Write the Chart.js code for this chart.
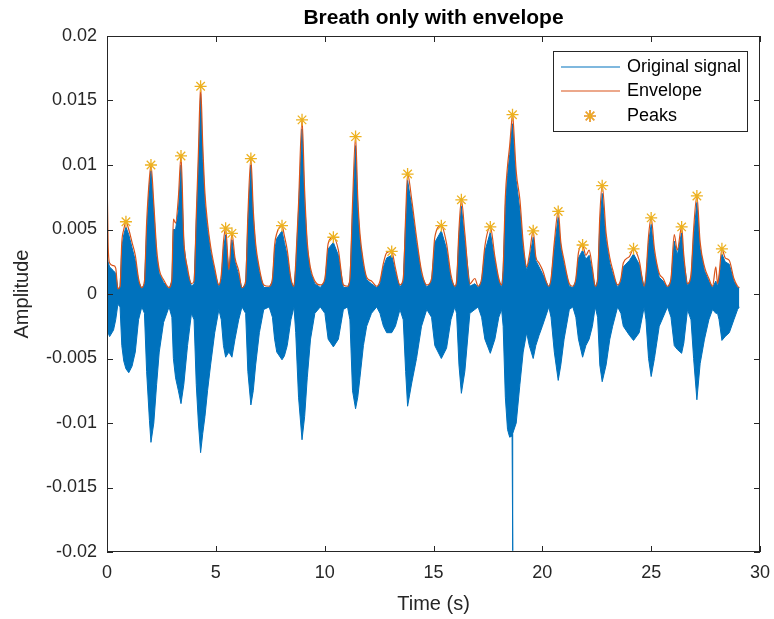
<!DOCTYPE html>
<html>
<head>
<meta charset="utf-8">
<script src="https://cdn.jsdelivr.net/npm/chart.js@4.4.0/dist/chart.umd.min.js"></script>
<style>
  html, body { margin: 0; padding: 0; background: #fff; }
  #wrap { width: 774px; height: 619px; }
</style>
</head>
<body>
<div id="wrap"><canvas id="graph"></canvas></div>
<script>
// values
const timeS = [
  0.00, 0.05, 0.12, 0.30, 0.40, 0.50, 0.60, 0.68, 0.77, 0.87, 1.00, 1.15, 1.30, 1.45, 1.60,
  1.72, 1.82, 1.95, 2.02, 2.15, 2.28, 2.40, 2.60, 2.85, 2.98, 3.05, 3.15, 3.28, 3.40, 3.53,
  3.70, 3.88, 4.00, 4.10, 4.20, 4.30, 4.40, 4.50, 4.62, 4.76, 4.95, 5.14, 5.25, 5.35, 5.45,
  5.60, 5.74, 5.88, 6.05, 6.20, 6.37, 6.47, 6.61, 6.72, 6.83, 7.00, 7.20, 7.45, 7.60, 7.70,
  7.80, 8.04, 8.15, 8.28, 8.45, 8.59, 8.67, 8.80, 8.96, 9.08, 9.20, 9.35, 9.55, 9.80, 10.01,
  10.16, 10.40, 10.63, 10.86, 11.05, 11.16, 11.28, 11.42, 11.52, 11.62, 11.78, 11.93, 12.15, 12.39, 12.54,
  12.70, 12.85, 13.08, 13.25, 13.46, 13.61, 13.72, 13.81, 14.00, 14.22, 14.45, 14.69, 14.91, 15.06, 15.36,
  15.60, 15.80, 15.98, 16.06, 16.17, 16.28, 16.44, 16.67, 16.90, 17.05, 17.21, 17.36, 17.61, 17.82, 18.00,
  18.13, 18.20, 18.30, 18.40, 18.50, 18.61, 18.63, 18.65, 18.80, 18.97, 19.12, 19.28, 19.40, 19.58, 19.70,
  19.85, 20.00, 20.30, 20.40, 20.55, 20.73, 20.85, 21.00, 21.24, 21.40, 21.54, 21.66, 21.85, 22.00, 22.15,
  22.30, 22.43, 22.54, 22.64, 22.75, 22.93, 23.10, 23.23, 23.46, 23.61, 23.72, 24.00, 24.19, 24.45, 24.68,
  24.76, 24.88, 25.00, 25.15, 25.37, 25.55, 25.75, 25.91, 26.06, 26.20, 26.40, 26.50, 26.67, 26.83, 26.95,
  27.10, 27.25, 27.45, 27.65, 27.82, 27.97, 28.05, 28.12, 28.25, 28.40, 28.59, 28.80, 28.97, 29.05
];

const envelope = [
  0.0098, 0.0040, 0.0024, 0.0022, 0.0020, 0.0004, 0.0006, 0.0040, 0.0050, 0.0056, 0.0050, 0.0040, 0.0030, 0.0012, 0.0005,
  0.0010, 0.0055, 0.0090, 0.0100, 0.0070, 0.0035, 0.0019, 0.0011, 0.0005, 0.0012, 0.0058, 0.0055, 0.0075, 0.0107, 0.0042,
  0.0020, 0.0008, 0.0010, 0.0060, 0.0110, 0.0161, 0.0115, 0.0078, 0.0055, 0.0037, 0.0020, 0.0007, 0.0015, 0.0040, 0.0051,
  0.0019, 0.0047, 0.0028, 0.0018, 0.0005, 0.0010, 0.0060, 0.0105, 0.0065, 0.0039, 0.0020, 0.0007, 0.0006, 0.0012, 0.0038,
  0.0047, 0.0053, 0.0045, 0.0034, 0.0012, 0.0006, 0.0024, 0.0070, 0.0135, 0.0080, 0.0040, 0.0020, 0.0010, 0.0007, 0.0012,
  0.0039, 0.0044, 0.0034, 0.0007, 0.0006, 0.0012, 0.0070, 0.0122, 0.0075, 0.0047, 0.0025, 0.0013, 0.0010, 0.0006, 0.0010,
  0.0024, 0.0032, 0.0033, 0.0020, 0.0007, 0.0012, 0.0060, 0.0093, 0.0073, 0.0044, 0.0018, 0.0007, 0.0012, 0.0044, 0.0053,
  0.0039, 0.0015, 0.0006, 0.0010, 0.0050, 0.0073, 0.0047, 0.0008, 0.0012, 0.0006, 0.0012, 0.0037, 0.0052, 0.0029, 0.0012,
  0.0007, 0.0020, 0.0075, 0.0099, 0.0115, 0.0137, 0.0139, 0.0137, 0.0095, 0.0073, 0.0040, 0.0021, 0.0030, 0.0049, 0.0029,
  0.0024, 0.0019, 0.0006, 0.0012, 0.0040, 0.0064, 0.0040, 0.0026, 0.0008, 0.0006, 0.0012, 0.0032, 0.0038, 0.0030, 0.0034,
  0.0020, 0.0006, 0.0012, 0.0060, 0.0084, 0.0047, 0.0028, 0.0019, 0.0007, 0.0012, 0.0024, 0.0029, 0.0035, 0.0026, 0.0006,
  0.0015, 0.0045, 0.0059, 0.0035, 0.0016, 0.0012, 0.0006, 0.0012, 0.0046, 0.0034, 0.0052, 0.0030, 0.0008, 0.0015, 0.0050,
  0.0076, 0.0040, 0.0021, 0.0012, 0.0006, 0.0021, 0.0008, 0.0015, 0.0035, 0.0028, 0.0026, 0.0012, 0.0006, 0.0005
];

const signalHigh = [
  0.0030, 0.0025, 0.0021, 0.0018, 0.0016, 0.0004, 0.0005, 0.0036, 0.0046, 0.0052, 0.0046, 0.0036, 0.0026, 0.0010, 0.0004,
  0.0008, 0.0048, 0.0085, 0.0096, 0.0065, 0.0030, 0.0016, 0.0009, 0.0004, 0.0010, 0.0050, 0.0050, 0.0065, 0.0100, 0.0038,
  0.0017, 0.0006, 0.0008, 0.0055, 0.0100, 0.0155, 0.0105, 0.0070, 0.0050, 0.0033, 0.0017, 0.0005, 0.0012, 0.0035, 0.0046,
  0.0017, 0.0042, 0.0025, 0.0015, 0.0004, 0.0008, 0.0055, 0.0100, 0.0060, 0.0035, 0.0017, 0.0005, 0.0005, 0.0010, 0.0034,
  0.0043, 0.0049, 0.0040, 0.0030, 0.0010, 0.0005, 0.0020, 0.0065, 0.0128, 0.0072, 0.0036, 0.0017, 0.0008, 0.0005, 0.0010,
  0.0035, 0.0040, 0.0030, 0.0005, 0.0005, 0.0010, 0.0063, 0.0115, 0.0068, 0.0042, 0.0022, 0.0011, 0.0008, 0.0005, 0.0008,
  0.0021, 0.0028, 0.0030, 0.0017, 0.0005, 0.0010, 0.0055, 0.0088, 0.0068, 0.0040, 0.0015, 0.0005, 0.0010, 0.0040, 0.0049,
  0.0035, 0.0012, 0.0005, 0.0008, 0.0045, 0.0068, 0.0042, 0.0006, 0.0008, 0.0005, 0.0010, 0.0033, 0.0048, 0.0026, 0.0010,
  0.0005, 0.0018, 0.0068, 0.0092, 0.0108, 0.0130, 0.0132, 0.0130, 0.0088, 0.0065, 0.0035, 0.0018, 0.0026, 0.0044, 0.0026,
  0.0021, 0.0016, 0.0005, 0.0010, 0.0036, 0.0060, 0.0036, 0.0023, 0.0006, 0.0005, 0.0010, 0.0028, 0.0034, 0.0027, 0.0030,
  0.0017, 0.0005, 0.0010, 0.0054, 0.0078, 0.0042, 0.0024, 0.0016, 0.0005, 0.0010, 0.0021, 0.0026, 0.0031, 0.0023, 0.0005,
  0.0012, 0.0040, 0.0054, 0.0031, 0.0013, 0.0010, 0.0005, 0.0010, 0.0041, 0.0030, 0.0048, 0.0026, 0.0006, 0.0012, 0.0045,
  0.0071, 0.0035, 0.0018, 0.0010, 0.0005, 0.0010, 0.0006, 0.0012, 0.0031, 0.0025, 0.0023, 0.0010, 0.0005, 0.0005
];

const signalLow = [
  -0.0025, -0.0030, -0.0033, -0.0028, -0.0020, -0.0008, -0.0010, -0.0040, -0.0052, -0.0058, -0.0061, -0.0056, -0.0045, -0.0020, -0.0010,
  -0.0015, -0.0060, -0.0098, -0.0115, -0.0100, -0.0070, -0.0045, -0.0022, -0.0010, -0.0018, -0.0050, -0.0065, -0.0075, -0.0085, -0.0070,
  -0.0040, -0.0015, -0.0020, -0.0070, -0.0100, -0.0123, -0.0108, -0.0095, -0.0075, -0.0055, -0.0030, -0.0012, -0.0020, -0.0040, -0.0049,
  -0.0045, -0.0049, -0.0035, -0.0020, -0.0010, -0.0015, -0.0060, -0.0086, -0.0075, -0.0055, -0.0030, -0.0012, -0.0010, -0.0018, -0.0035,
  -0.0045, -0.0051, -0.0048, -0.0040, -0.0020, -0.0010, -0.0030, -0.0080, -0.0113, -0.0095, -0.0065, -0.0035, -0.0015, -0.0010, -0.0015,
  -0.0035, -0.0041, -0.0035, -0.0012, -0.0010, -0.0020, -0.0075, -0.0089, -0.0080, -0.0065, -0.0040, -0.0025, -0.0015, -0.0010, -0.0015,
  -0.0025, -0.0030, -0.0030, -0.0025, -0.0012, -0.0020, -0.0060, -0.0087, -0.0069, -0.0050, -0.0025, -0.0012, -0.0018, -0.0040, -0.0050,
  -0.0042, -0.0020, -0.0010, -0.0015, -0.0055, -0.0077, -0.0060, -0.0015, -0.0012, -0.0010, -0.0018, -0.0035, -0.0046, -0.0035, -0.0018,
  -0.0012, -0.0025, -0.0080, -0.0105, -0.0111, -0.0110, -0.0199, -0.0108, -0.0100, -0.0070, -0.0045, -0.0030, -0.0040, -0.0050, -0.0040,
  -0.0032, -0.0025, -0.0010, -0.0018, -0.0045, -0.0067, -0.0055, -0.0035, -0.0012, -0.0010, -0.0018, -0.0035, -0.0049, -0.0040, -0.0035,
  -0.0025, -0.0010, -0.0018, -0.0055, -0.0068, -0.0055, -0.0035, -0.0025, -0.0010, -0.0015, -0.0025, -0.0032, -0.0036, -0.0030, -0.0010,
  -0.0020, -0.0050, -0.0064, -0.0050, -0.0025, -0.0018, -0.0010, -0.0018, -0.0040, -0.0043, -0.0046, -0.0038, -0.0012, -0.0020, -0.0050,
  -0.0082, -0.0054, -0.0035, -0.0020, -0.0012, -0.0015, -0.0015, -0.0020, -0.0036, -0.0033, -0.0030, -0.0020, -0.0012, -0.0010
];

const peakTimes = [
  0.87, 2.02, 3.40, 4.30, 5.45, 5.74, 6.61, 8.04, 8.96, 10.40, 11.42, 13.08, 13.81,
  15.36, 16.28, 17.61, 18.63, 19.58, 20.73, 21.85, 22.75, 24.19, 25.00, 26.40, 27.10, 28.25
];
const peakValues = [
  0.0056, 0.0100, 0.0107, 0.0161, 0.0051, 0.0047, 0.0105, 0.0053, 0.0135, 0.0044, 0.0122, 0.0033, 0.0093,
  0.0053, 0.0073, 0.0052, 0.0139, 0.0049, 0.0064, 0.0038, 0.0084, 0.0035, 0.0059, 0.0052, 0.0076, 0.0035
];

const xTicks = [0, 5, 10, 15, 20, 25, 30];
const yTicks = [-0.02, -0.015, -0.01, -0.005, 0, 0.005, 0.01, 0.015, 0.02];

const titleText = "Breath only with envelope";
const legendLabels = ["Original signal", "Envelope", "Peaks"];

const BLUE = "#0072BD";
const ORANGE = "#D95319";
const GOLD = "#EDB120";
const AXIS = "#262626";
const FONT = "'Liberation Sans', Arial, Helvetica, sans-serif";

const pairs = (xs, ys) => xs.map((x, i) => ({ x, y: ys[i] }));

// box, inward ticks, title and legend in the MATLAB manner
const matlabFrame = {
  id: "matlabFrame",
  afterDraw: (chart) => {
    const { ctx, chartArea: a, scales } = chart;
    ctx.save();
    ctx.strokeStyle = AXIS;
    ctx.lineWidth = 1;
    ctx.strokeRect(a.left + 0.5, a.top + 0.5, a.right - a.left - 1, a.bottom - a.top - 1);
    const tl = 6;
    ctx.beginPath();
    xTicks.forEach((v) => {
      const px = Math.round(scales.x.getPixelForValue(v)) + 0.5;
      ctx.moveTo(px, a.bottom);
      ctx.lineTo(px, a.bottom - tl);
      ctx.moveTo(px, a.top);
      ctx.lineTo(px, a.top + tl);
    });
    yTicks.forEach((v) => {
      const py = Math.round(scales.y.getPixelForValue(v)) + 0.5;
      ctx.moveTo(a.left, py);
      ctx.lineTo(a.left + tl, py);
      ctx.moveTo(a.right, py);
      ctx.lineTo(a.right - tl, py);
    });
    ctx.stroke();

    // title
    ctx.fillStyle = "#000";
    ctx.font = "bold 21px " + FONT;
    ctx.textAlign = "center";
    ctx.textBaseline = "middle";
    ctx.fillText(titleText, (a.left + a.right) / 2, 18);

    // legend
    const bx = a.right - 207;
    const by = a.top + 15;
    ctx.fillStyle = "#fff";
    ctx.fillRect(bx, by, 194, 80);
    ctx.strokeStyle = AXIS;
    ctx.strokeRect(bx + 0.5, by + 0.5, 194, 80);
    const rows = [by + 16, by + 40, by + 65];
    ctx.lineWidth = 1.2;
    ctx.strokeStyle = BLUE;
    ctx.beginPath();
    ctx.moveTo(bx + 8, rows[0]);
    ctx.lineTo(bx + 67, rows[0]);
    ctx.stroke();
    ctx.strokeStyle = ORANGE;
    ctx.beginPath();
    ctx.moveTo(bx + 8, rows[1]);
    ctx.lineTo(bx + 67, rows[1]);
    ctx.stroke();
    Chart.helpers.drawPoint(ctx, { pointStyle: "star", radius: 6, borderWidth: 1.3 }, bx + 37, rows[2]);
    ctx.strokeStyle = GOLD;
    ctx.stroke();
    ctx.fillStyle = "#000";
    ctx.font = "18px " + FONT;
    ctx.textAlign = "left";
    legendLabels.forEach((t, i) => ctx.fillText(t, bx + 74, rows[i]));
    ctx.restore();
  },
};

const canvas = document.getElementById("graph");
const chart = new Chart(canvas, {
  type: "line",
  data: {
    datasets: [
      {
        label: "Peaks",
        type: "scatter",
        data: pairs(peakTimes, peakValues),
        pointStyle: "star",
        pointRadius: 6,
        borderColor: GOLD,
        backgroundColor: GOLD,
        borderWidth: 1.3,
      },
      {
        label: "Envelope",
        data: pairs(timeS, envelope),
        borderColor: ORANGE,
        borderWidth: 1.2,
        pointRadius: 0,
        cubicInterpolationMode: "monotone",
        fill: false,
      },
      {
        label: "Original signal",
        data: pairs(timeS, signalHigh),
        borderColor: BLUE,
        backgroundColor: BLUE,
        borderWidth: 1,
        pointRadius: 0,
        tension: 0,
        fill: "+1",
      },
      {
        label: "Original signal low",
        data: pairs(timeS, signalLow),
        borderColor: BLUE,
        backgroundColor: BLUE,
        borderWidth: 1,
        pointRadius: 0,
        tension: 0,
        fill: false,
      },
    ],
  },
  options: {
    responsive: true,
    maintainAspectRatio: false,
    animation: false,
    layout: { padding: { top: 36, right: 14, left: 0, bottom: 0 } },
    plugins: {
      legend: { display: false },
      tooltip: { enabled: false },
      title: { display: false },
    },
    scales: {
      x: {
        type: "linear",
        min: 0,
        max: 30,
        afterBuildTicks: (s) => { s.ticks = xTicks.map((v) => ({ value: v })); },
        afterFit: (s) => {
          s.height = 67;
          s.paddingLeft = 0;
          s.paddingRight = 0;
        },
        grid: { display: false, drawTicks: false },
        border: { display: false },
        ticks: { color: AXIS, padding: 10, font: { family: FONT, size: 18 } },
        title: { display: true, text: "Time (s)", color: AXIS, padding: { top: 0, bottom: 3 }, font: { family: FONT, size: 20 } },
      },
      y: {
        type: "linear",
        min: -0.02,
        max: 0.02,
        afterBuildTicks: (s) => { s.ticks = yTicks.map((v) => ({ value: v })); },
        afterFit: (s) => {
          s.width = 107;
          s.paddingTop = 0;
          s.paddingBottom = 0;
        },
        grid: { display: false, drawTicks: false },
        border: { display: false },
        ticks: {
          color: AXIS,
          padding: 10,
          font: { family: FONT, size: 18 },
          callback: (v) => String(parseFloat(Number(v).toFixed(3))),
        },
        title: { display: true, text: "Amplitude", color: AXIS, padding: { top: 10, bottom: 0 }, font: { family: FONT, size: 20 } },
      },
    },
  },
  plugins: [matlabFrame],
});
</script>
</body>
</html>
